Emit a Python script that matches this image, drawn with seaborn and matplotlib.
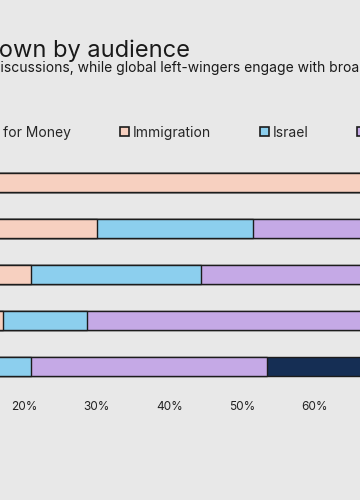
import matplotlib.pyplot as plt
import matplotlib.patches as mpatches
import pandas as pd
import seaborn as sns

# --- data (percent share of each topic per audience) ---
audiences = ["UK right-wingers", "US right-wingers", "UK left-wingers",
             "US left-wingers", "Global left-wingers"]
topics = ["Value for Money", "Immigration", "Israel", "Ukraine", "Climate"]
topic_colors = ["#2f6b4f", "#f7d0c0", "#8ccfee", "#c5a9e6", "#152e54"]

value_for_money = [6, 5, 4, 3, 2]
immigration = [84, 25, 17, 14.1, 5]
israel = [6, 21.5, 23.3, 11.6, 14]
ukraine = [4, 38.5, 45.7, 61.3, 32.4]
climate = [0, 10, 10, 10, 46.6]

# only the ticks that fall inside the cropped frame
x_ticks = [20, 30, 40, 50, 60]

title = "Topic breakdown by audience"
subtitle = ("Right-wingers focus on immigration discussions, while global "
            "left-wingers engage with broader geopolitical topics")
subtitle_hidden = "Right-wingers focus on immigration d"

BG = "#e8e8e8"
EDGE = "#1c1c1c"
W, H = 360, 500

sns.set_theme(style="white")
plt.rcParams["font.family"] = ["Inter", "DejaVu Sans"]

df = pd.DataFrame({"audience": audiences, "Value for Money": value_for_money,
                   "Immigration": immigration, "Israel": israel,
                   "Ukraine": ukraine, "Climate": climate})
cum = df[topics].cumsum(axis=1)
cum["audience"] = df["audience"]

fig = plt.figure(figsize=(W / 100, H / 100), dpi=100, facecolor=BG)
# the visible frame is a crop of a wider chart: axes run past the canvas
ax = fig.add_axes([-121.3 / W, (H - 389.5) / H, 726.7 / W, 230 / H])
ax.set_facecolor(BG)

# stacked bars: draw cumulative totals from the longest to the shortest
for topic, color in reversed(list(zip(topics, topic_colors))):
    sns.barplot(data=cum, x=topic, y="audience", orient="h", ax=ax,
                color=color, saturation=1, width=0.4, errorbar=None,
                edgecolor=EDGE, linewidth=1.0)

ax.set_xlim(0, 100)
ax.set_ylim(4.5, -0.5)
ax.set_xticks(x_ticks)
ax.set_xticklabels([f"{t}%" for t in x_ticks])
ax.tick_params(axis="x", length=0, pad=8, labelsize=8.5, colors="#222222")
ax.set_xlabel("")
ax.set_ylabel("")
ax.set_yticks([])
for s in ax.spines.values():
    s.set_visible(False)

# title and subtitle
fig.text(190 / W, 1 - 57 / H, title, ha="right", va="baseline",
         fontsize=17, color="#1a1a1a")
renderer = fig.canvas.get_renderer()
probe = fig.text(0, 0, subtitle_hidden, fontsize=10)
hidden_w = probe.get_window_extent(renderer).width
probe.remove()
fig.text((0.5 - hidden_w) / W, 1 - 72 / H, subtitle, ha="left",
         va="baseline", fontsize=10, color="#1a1a1a")

# legend, shifted so that "Immigration" lands where it sits in the crop
handles = [mpatches.Patch(facecolor=c, edgecolor=EDGE, linewidth=1.2, label=t)
           for t, c in zip(topics, topic_colors)]
leg_y = 1 - 132.7 / H
leg = fig.legend(handles=handles, loc="center left", bbox_to_anchor=(0, leg_y),
                 ncol=5, frameon=False, fontsize=10, handlelength=0.65,
                 handleheight=0.65, handletextpad=0.3, columnspacing=3.5,
                 borderpad=0, borderaxespad=0)
fig.canvas.draw()
imm_text = [t for t in leg.get_texts() if t.get_text() == "Immigration"][0]
dx = 133 - imm_text.get_window_extent(renderer).x0
leg.set_bbox_to_anchor((dx / W, leg_y), transform=fig.transFigure)

fig.savefig("out.png", dpi=100, facecolor=BG)
